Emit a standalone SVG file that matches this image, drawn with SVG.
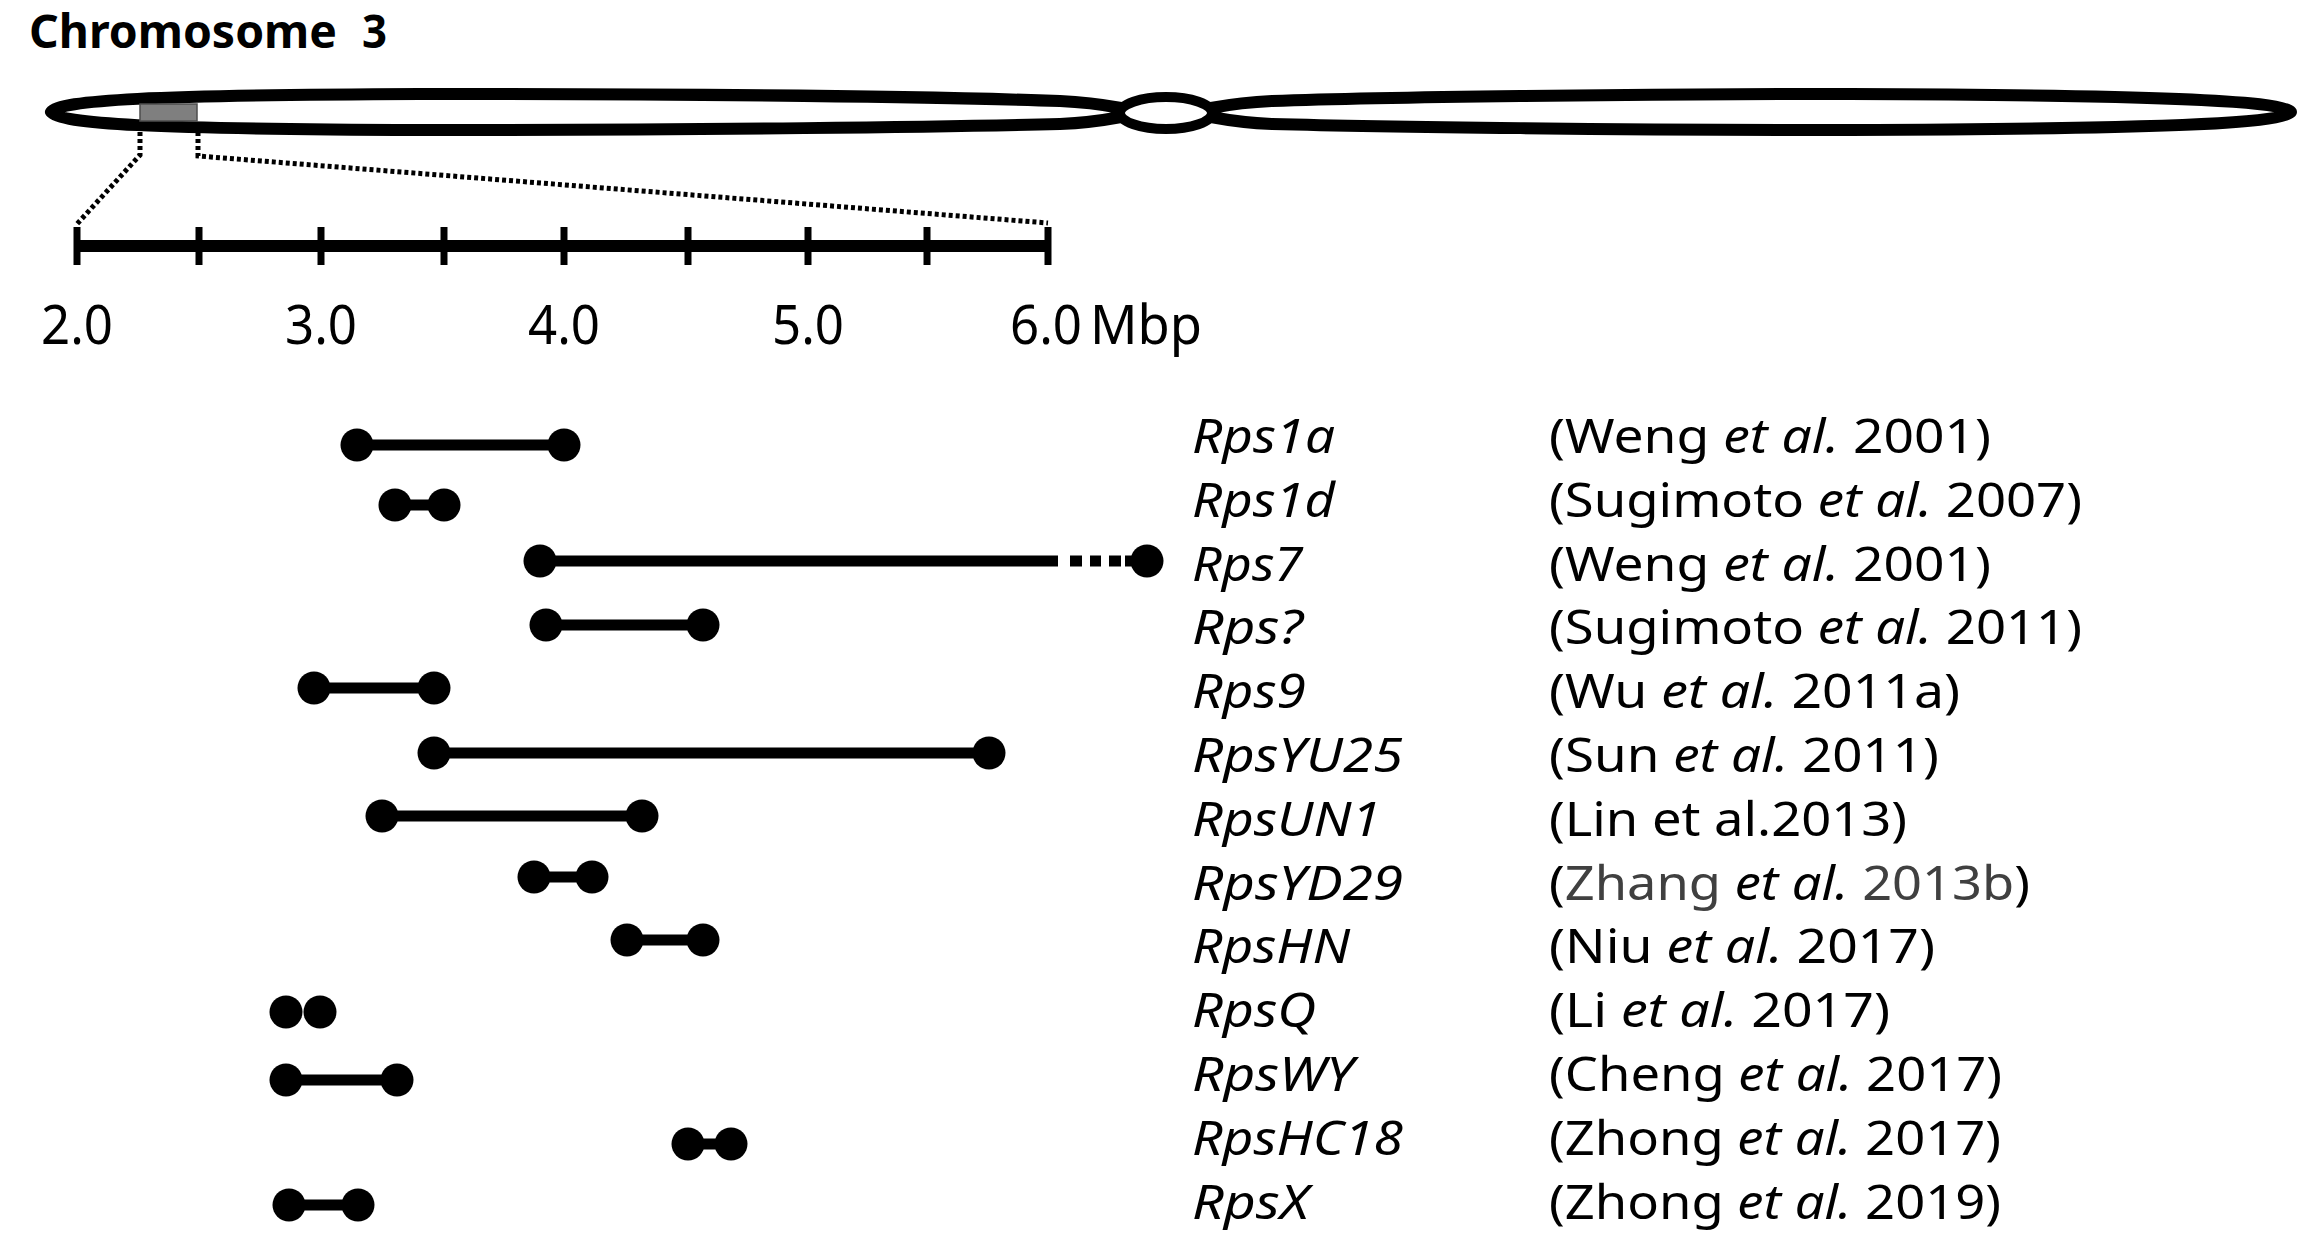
<svg xmlns="http://www.w3.org/2000/svg" width="2321" height="1234" viewBox="0 0 2321 1234">
<style>
text{font-family:"Noto Sans","Open Sans","Liberation Sans",sans-serif;fill:#000}
.title{font-size:46px;font-weight:bold}
.scale{font-size:55px}
.gene{font-size:47px;font-style:italic}
.cite{font-size:47px}
.it{font-style:italic}
.gr{fill:#404040}
.chrom{fill:none;stroke:#000;stroke-width:12;stroke-linejoin:round;stroke-linecap:round}
.zoomline{fill:none;stroke:#000;stroke-width:5;stroke-dasharray:4 3}
.bar{stroke:#000;stroke-width:11;fill:none}
.dot{fill:#000}
.tick{stroke:#000;stroke-width:7}
</style>
<rect width="2321" height="1234" fill="#fff"/>
<g id="title"><text class="title" y="48"><tspan x="29" textLength="308" lengthAdjust="spacingAndGlyphs">Chromosome</tspan><tspan x="362" textLength="25" lengthAdjust="spacingAndGlyphs">3</tspan></text></g>
<g id="chromosome">
<path class="chrom" d="M 1121,108 C 1105,105 1085,102 1060,101 C 950,97 700,94 420,94 C 150,95 60,100 51,112 C 60,124 150,129 420,130 C 700,130 950,127 1060,124 C 1085,123 1105,120 1121,117"/>
<path class="chrom" d="M 1211,108 C 1227,105 1247,102 1272,101 C 1382,97 1632,94 1850,94 C 2150,95 2280,100 2291,112 C 2280,124 2150,129 1850,130 C 1632,130 1382,127 1272,124 C 1247,123 1227,120 1211,117"/>
<ellipse cx="1166" cy="113" rx="46" ry="16" fill="#fff" stroke="#000" stroke-width="10"/>
<rect x="140" y="104" width="57" height="17" fill="#7f7f7f" stroke="#4d4d4d" stroke-width="1.5"/>
</g>
<g id="connectors">
<polyline class="zoomline" points="140,132 140,155 77,224"/>
<polyline class="zoomline" points="198,132 198,156 1048,223"/>
</g>
<g id="scale">
<line x1="77" y1="246" x2="1048" y2="246" stroke="#000" stroke-width="12"/>
<line class="tick" x1="77" y1="227" x2="77" y2="265"/>
<line class="tick" x1="199" y1="227" x2="199" y2="265"/>
<line class="tick" x1="321" y1="227" x2="321" y2="265"/>
<line class="tick" x1="444" y1="227" x2="444" y2="265"/>
<line class="tick" x1="564" y1="227" x2="564" y2="265"/>
<line class="tick" x1="688" y1="227" x2="688" y2="265"/>
<line class="tick" x1="808" y1="227" x2="808" y2="265"/>
<line class="tick" x1="927" y1="227" x2="927" y2="265"/>
<line class="tick" x1="1048" y1="227" x2="1048" y2="265"/>
<text class="scale" x="41" y="344" textLength="72" lengthAdjust="spacingAndGlyphs">2.0</text>
<text class="scale" x="285" y="344" textLength="72" lengthAdjust="spacingAndGlyphs">3.0</text>
<text class="scale" x="528" y="344" textLength="72" lengthAdjust="spacingAndGlyphs">4.0</text>
<text class="scale" x="772" y="344" textLength="72" lengthAdjust="spacingAndGlyphs">5.0</text>
<text class="scale" x="1010" y="344" textLength="72" lengthAdjust="spacingAndGlyphs">6.0</text>
<text class="scale" x="1090" y="344" textLength="112" lengthAdjust="spacingAndGlyphs">Mbp</text>
</g>
<g id="Rps1a">
<line class="bar" x1="357" y1="445" x2="564" y2="445"/><circle class="dot" cx="357" cy="445" r="16.5"/><circle class="dot" cx="564" cy="445" r="16.5"/>
<text class="gene" x="1192" y="453" textLength="143" lengthAdjust="spacingAndGlyphs">Rps1a</text>
<text class="cite" x="1549" y="453" textLength="442" lengthAdjust="spacingAndGlyphs">(Weng <tspan class="it">et al.</tspan> 2001)</text>
</g>
<g id="Rps1d">
<line class="bar" x1="395" y1="505" x2="444" y2="505"/><circle class="dot" cx="395" cy="505" r="16.5"/><circle class="dot" cx="444" cy="505" r="16.5"/>
<text class="gene" x="1192" y="516.8" textLength="143" lengthAdjust="spacingAndGlyphs">Rps1d</text>
<text class="cite" x="1549" y="516.8" textLength="533" lengthAdjust="spacingAndGlyphs">(Sugimoto <tspan class="it">et al.</tspan> 2007)</text>
</g>
<g id="Rps7">
<line class="bar" x1="540" y1="561" x2="1058" y2="561"/>
<rect x="1070" y="555.5" width="12" height="11"/><rect x="1090" y="555.5" width="11" height="11"/><rect x="1109" y="555.5" width="12" height="11"/>
<line class="bar" x1="1125" y1="561" x2="1147" y2="561"/>
<circle class="dot" cx="540" cy="561" r="16.5"/><circle class="dot" cx="1147" cy="561" r="16.5"/>
<text class="gene" x="1192" y="580.6" textLength="111" lengthAdjust="spacingAndGlyphs">Rps7</text>
<text class="cite" x="1549" y="580.6" textLength="442" lengthAdjust="spacingAndGlyphs">(Weng <tspan class="it">et al.</tspan> 2001)</text>
</g>
<g id="Rps_unknown">
<line class="bar" x1="546" y1="625" x2="703" y2="625"/><circle class="dot" cx="546" cy="625" r="16.5"/><circle class="dot" cx="703" cy="625" r="16.5"/>
<text class="gene" x="1192" y="644.4" textLength="111" lengthAdjust="spacingAndGlyphs">Rps?</text>
<text class="cite" x="1549" y="644.4" textLength="533" lengthAdjust="spacingAndGlyphs">(Sugimoto <tspan class="it">et al.</tspan> 2011)</text>
</g>
<g id="Rps9">
<line class="bar" x1="314" y1="688" x2="434" y2="688"/><circle class="dot" cx="314" cy="688" r="16.5"/><circle class="dot" cx="434" cy="688" r="16.5"/>
<text class="gene" x="1192" y="708.2" textLength="114" lengthAdjust="spacingAndGlyphs">Rps9</text>
<text class="cite" x="1549" y="708.2" textLength="411" lengthAdjust="spacingAndGlyphs">(Wu <tspan class="it">et al.</tspan> 2011a)</text>
</g>
<g id="RpsYU25">
<line class="bar" x1="434" y1="753" x2="989" y2="753"/><circle class="dot" cx="434" cy="753" r="16.5"/><circle class="dot" cx="989" cy="753" r="16.5"/>
<text class="gene" x="1192" y="772" textLength="211" lengthAdjust="spacingAndGlyphs">RpsYU25</text>
<text class="cite" x="1549" y="772" textLength="390" lengthAdjust="spacingAndGlyphs">(Sun <tspan class="it">et al.</tspan> 2011)</text>
</g>
<g id="RpsUN1">
<line class="bar" x1="382" y1="816" x2="642" y2="816"/><circle class="dot" cx="382" cy="816" r="16.5"/><circle class="dot" cx="642" cy="816" r="16.5"/>
<text class="gene" x="1192" y="835.8" textLength="189" lengthAdjust="spacingAndGlyphs">RpsUN1</text>
<text class="cite" x="1549" y="835.8" textLength="358" lengthAdjust="spacingAndGlyphs">(Lin et al.2013)</text>
</g>
<g id="RpsYD29">
<line class="bar" x1="534" y1="877" x2="592" y2="877"/><circle class="dot" cx="534" cy="877" r="16.5"/><circle class="dot" cx="592" cy="877" r="16.5"/>
<text class="gene" x="1192" y="899.6" textLength="211" lengthAdjust="spacingAndGlyphs">RpsYD29</text>
<text class="cite" x="1549" y="899.6" textLength="481" lengthAdjust="spacingAndGlyphs">(<tspan class="gr">Zhang </tspan><tspan class="it">et al.</tspan><tspan class="gr"> 2013b</tspan>)</text>
</g>
<g id="RpsHN">
<line class="bar" x1="627" y1="940" x2="703" y2="940"/><circle class="dot" cx="627" cy="940" r="16.5"/><circle class="dot" cx="703" cy="940" r="16.5"/>
<text class="gene" x="1192" y="963.4" textLength="158" lengthAdjust="spacingAndGlyphs">RpsHN</text>
<text class="cite" x="1549" y="963.4" textLength="386" lengthAdjust="spacingAndGlyphs">(Niu <tspan class="it">et al.</tspan> 2017)</text>
</g>
<g id="RpsQ">
<circle class="dot" cx="286" cy="1012" r="16.5"/><circle class="dot" cx="320" cy="1012" r="16.5"/>
<text class="gene" x="1192" y="1027.2" textLength="124" lengthAdjust="spacingAndGlyphs">RpsQ</text>
<text class="cite" x="1549" y="1027.2" textLength="341" lengthAdjust="spacingAndGlyphs">(Li <tspan class="it">et al.</tspan> 2017)</text>
</g>
<g id="RpsWY">
<line class="bar" x1="286" y1="1080" x2="397" y2="1080"/><circle class="dot" cx="286" cy="1080" r="16.5"/><circle class="dot" cx="397" cy="1080" r="16.5"/>
<text class="gene" x="1192" y="1091" textLength="162" lengthAdjust="spacingAndGlyphs">RpsWY</text>
<text class="cite" x="1549" y="1091" textLength="453" lengthAdjust="spacingAndGlyphs">(Cheng <tspan class="it">et al.</tspan> 2017)</text>
</g>
<g id="RpsHC18">
<line class="bar" x1="688" y1="1144" x2="731" y2="1144"/><circle class="dot" cx="688" cy="1144" r="16.5"/><circle class="dot" cx="731" cy="1144" r="16.5"/>
<text class="gene" x="1192" y="1154.8" textLength="211" lengthAdjust="spacingAndGlyphs">RpsHC18</text>
<text class="cite" x="1549" y="1154.8" textLength="452" lengthAdjust="spacingAndGlyphs">(Zhong <tspan class="it">et al.</tspan> 2017)</text>
</g>
<g id="RpsX">
<line class="bar" x1="289" y1="1205" x2="358" y2="1205"/><circle class="dot" cx="289" cy="1205" r="16.5"/><circle class="dot" cx="358" cy="1205" r="16.5"/>
<text class="gene" x="1192" y="1218.6" textLength="117" lengthAdjust="spacingAndGlyphs">RpsX</text>
<text class="cite" x="1549" y="1218.6" textLength="452" lengthAdjust="spacingAndGlyphs">(Zhong <tspan class="it">et al.</tspan> 2019)</text>
</g>
</svg>
